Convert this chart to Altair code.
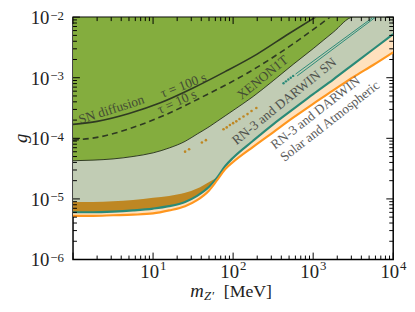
import altair as alt
import numpy as np
import pandas as pd

# ---------------- data (log10 values) ----------------
M_LOG = [0, 0.25, 0.5, 0.75, 1.0, 1.2, 1.4, 1.55, 1.7, 1.8, 1.9, 2.0, 2.25, 2.5, 2.75, 3.0, 3.25, 3.5, 3.75, 4.0]
XENON_LOG = [-4.37, -4.36, -4.34, -4.30, -4.24, -4.16, -4.05, -3.93, -3.81, -3.72, -3.63, -3.54, -3.31, -3.05, -2.78, -2.52, -2.25, -2.0, -2.0, -2.0]
SN_TEAL_LOG = [-5.22, -5.22, -5.21, -5.19, -5.16, -5.12, -5.05, -4.95, -4.80, -4.65, -4.46, -4.32, -4.04, -3.77, -3.52, -3.27, -3.03, -2.78, -2.53, -2.28]
SOLAR_LOG = [-5.28, -5.28, -5.27, -5.26, -5.24, -5.19, -5.12, -5.02, -4.86, -4.69, -4.51, -4.39, -4.14, -3.90, -3.66, -3.43, -3.21, -2.99, -2.79, -2.58]
OCHRE_TOP_LOG = [-5.05, -5.05, -5.04, -5.02, -4.98, -4.95, -4.90, -4.83, -4.72, -4.65]

TAU100_M_LOG = [0, 0.3, 0.7, 1.1, 1.5, 1.9, 2.3, 2.7, 3.03]
TAU100_G_LOG = [-3.77, -3.72, -3.59, -3.41, -3.17, -2.90, -2.61, -2.27, -2.0]
TAU10_M_LOG = [0, 0.32, 0.73, 1.14, 1.67, 2.17, 2.74, 3.21]
TAU10_G_LOG = [-4.03, -3.98, -3.83, -3.62, -3.28, -2.93, -2.45, -2.0]

DOTS_M_LOG = [1.40, 1.45, 1.61, 1.66, 1.88, 1.92, 1.96, 2.00, 2.04, 2.08, 2.13, 2.18, 2.23, 2.29]
DOTS_G_LOG = [-4.22, -4.18, -4.07, -4.03, -3.85, -3.82, -3.78, -3.75, -3.72, -3.68, -3.64, -3.60, -3.55, -3.50]

XE_A_M_LOG = [2.78, 3.75]
XE_A_G_LOG = [-2.94, -2.0]
XE_B_M_LOG = [2.80, 3.78]
XE_B_G_LOG = [-2.97, -2.0]
XE_DOT_M_LOG = [2.63, 2.66, 2.69, 2.72, 2.75]
XE_DOT_G_LOG = [-3.09, -3.06, -3.03, -3.00, -2.97]

LABELS = ["SN diffusion", "τ = 100 s", "τ = 10 s", "XENON1T", "RN-3 and DARWIN SN",
          "RN-3 and DARWIN", "Solar and Atmospheric"]
LABEL_M_LOG = [0.48, 1.38, 1.30, 2.37, 2.64, 3.03, 3.21]
LABEL_G_LOG = [-3.53, -3.13, -3.40, -3.00, -3.39, -3.58, -3.72]
LABEL_ANGLE = [342, 339, 336, 321, 321, 322, 322]

X_MAJOR = [1, 10, 100, 1000, 10000]
X_LABELED = [10, 100, 1000, 10000]
X_EXP = ["1", "2", "3", "4"]
Y_MAJOR = [1e-6, 1e-5, 1e-4, 1e-3, 1e-2]
Y_EXP = ["−6", "−5", "−4", "−3", "−2"]
X_MINOR = [k * 10 ** d for d in range(0, 4) for k in range(2, 10)]
Y_MINOR = [k * 10.0 ** d for d in range(-6, -2) for k in range(2, 10)]

# ---------------- styling ----------------
W, H = 325, 246
FONT = "Liberation Serif"
GREEN = "#84AD3E"
GREY = "#C1CCB4"
OCHRE = "#BE8723"
TEAL = "#2A8A78"
ORANGE = "#FF961E"
PEACH = "#FFE1BE"
DARK = "#2f3a22"

xs = alt.Scale(type="log", domain=[1, 1e4], nice=False)
ys = alt.Scale(type="log", domain=[1e-6, 1e-2], nice=False)
X = alt.X("m:Q", scale=xs, axis=None)
Y = alt.Y("g:Q", scale=ys, axis=None)


def p10(a):
    return list(10 ** np.array(a, dtype=float))


def area(lo, hi, color):
    n = len(lo)
    d = pd.DataFrame({"m": p10(M_LOG[:n]), "g": p10(lo), "g2": p10(hi)})
    return alt.Chart(d).mark_area(color=color, clip=True, interpolate="monotone").encode(
        x=X, y=Y, y2="g2:Q")


def line(ml, gl, color, width, dash=None, interp="monotone"):
    d = pd.DataFrame({"m": p10(ml), "g": p10(gl)})
    kw = dict(color=color, strokeWidth=width, clip=True, interpolate=interp)
    if dash:
        kw["strokeDash"] = dash
    return alt.Chart(d).mark_line(**kw).encode(x=X, y=Y)


layers = []
layers.append(area(SOLAR_LOG, SN_TEAL_LOG, PEACH))
layers.append(area(SN_TEAL_LOG, XENON_LOG, GREY))
layers.append(area(XENON_LOG, [-2.0] * len(M_LOG), GREEN))
layers.append(area(SN_TEAL_LOG[:10], OCHRE_TOP_LOG, OCHRE))

layers.append(line(M_LOG, XENON_LOG, DARK, 1.0))
layers.append(line(M_LOG, SN_TEAL_LOG, TEAL, 2.2))
layers.append(line(M_LOG, SOLAR_LOG, ORANGE, 2.2))
layers.append(line(TAU100_M_LOG, TAU100_G_LOG, DARK, 1.6))
layers.append(line(TAU10_M_LOG, TAU10_G_LOG, DARK, 1.6, dash=[6, 4]))
layers.append(line(XE_A_M_LOG, XE_A_G_LOG, TEAL, 1.0, interp="linear"))
layers.append(line(XE_B_M_LOG, XE_B_G_LOG, TEAL, 1.0, interp="linear"))

dots = pd.DataFrame({"m": p10(DOTS_M_LOG), "g": p10(DOTS_G_LOG)})
layers.append(alt.Chart(dots).mark_circle(color=OCHRE, size=7, opacity=1).encode(x=X, y=Y))
xdots = pd.DataFrame({"m": p10(XE_DOT_M_LOG), "g": p10(XE_DOT_G_LOG)})
layers.append(alt.Chart(xdots).mark_circle(color=TEAL, size=6, opacity=1).encode(x=X, y=Y))

# annotations
for lab, ml, gl, ang in zip(LABELS, LABEL_M_LOG, LABEL_G_LOG, LABEL_ANGLE):
    d = pd.DataFrame({"m": [10 ** ml], "g": [10 ** gl], "t": [lab]})
    layers.append(alt.Chart(d).mark_text(font=FONT, fontSize=13.5, angle=ang, color="#333333",
                                         opacity=0.8, align="center", baseline="middle").encode(
        x=X, y=Y, text="t:N"))


# inward ticks on all four sides
def xticks(vals, length):
    d = pd.DataFrame({"m": vals})
    b = alt.Chart(d).mark_rule(color="black", strokeWidth=1).encode(
        x=X, y=alt.value(H), y2=alt.value(H - length))
    t = alt.Chart(d).mark_rule(color="black", strokeWidth=1).encode(
        x=X, y=alt.value(0), y2=alt.value(length))
    return [b, t]


def yticks(vals, length):
    d = pd.DataFrame({"g": vals})
    l = alt.Chart(d).mark_rule(color="black", strokeWidth=1).encode(
        y=Y, x=alt.value(0), x2=alt.value(length))
    r = alt.Chart(d).mark_rule(color="black", strokeWidth=1).encode(
        y=Y, x=alt.value(W), x2=alt.value(W - length))
    return [l, r]


layers += xticks(X_MAJOR, 7) + xticks(X_MINOR, 4)
layers += yticks(Y_MAJOR, 7) + yticks(Y_MINOR, 4)

# tick labels (10 with superscript exponent)
xl = pd.DataFrame({"m": X_LABELED, "e": X_EXP, "b": ["10"] * len(X_LABELED)})
layers.append(alt.Chart(xl).mark_text(font=FONT, fontSize=19, align="right", baseline="alphabetic",
                                      dx=6, color="#222").encode(x=X, y=alt.value(H + 19), text="b:N"))
layers.append(alt.Chart(xl).mark_text(font=FONT, fontSize=13, align="left", baseline="alphabetic",
                                      dx=7, color="#222").encode(x=X, y=alt.value(H + 11), text="e:N"))
yl = pd.DataFrame({"g": Y_MAJOR, "e": Y_EXP, "b": ["10"] * len(Y_MAJOR)})
layers.append(alt.Chart(yl).mark_text(font=FONT, fontSize=19, align="right", baseline="alphabetic",
                                      dy=7, color="#222").encode(y=Y, x=alt.value(-24), text="b:N"))
layers.append(alt.Chart(yl).mark_text(font=FONT, fontSize=13, align="left", baseline="alphabetic",
                                      dy=2.5, color="#222").encode(y=Y, x=alt.value(-23), text="e:N"))

# axis titles
one = pd.DataFrame({"t": ["m"]})
layers.append(alt.Chart(one).mark_text(font=FONT, fontSize=19, fontStyle="italic", align="left",
                                       baseline="alphabetic", color="#222").encode(
    x=alt.value(119), y=alt.value(284), text="t:N"))
sub = pd.DataFrame({"t": ["Z′"]})
layers.append(alt.Chart(sub).mark_text(font=FONT, fontSize=13, fontStyle="italic", align="left",
                                       baseline="alphabetic", color="#222").encode(
    x=alt.value(133), y=alt.value(287), text="t:N"))
unit = pd.DataFrame({"t": ["[MeV]"]})
layers.append(alt.Chart(unit).mark_text(font=FONT, fontSize=18, align="left",
                                        baseline="alphabetic", color="#222").encode(
    x=alt.value(153), y=alt.value(284), text="t:N"))
gt = pd.DataFrame({"t": ["g"]})
layers.append(alt.Chart(gt).mark_text(font=FONT, fontSize=19, fontStyle="italic", align="center",
                                      baseline="middle", angle=270, color="#222").encode(
    x=alt.value(-53), y=alt.value(H / 2), text="t:N"))

chart = alt.layer(*layers).properties(
    width=W, height=H,
    autosize=alt.AutoSizeParams(type="none"),
    padding={"left": 66, "top": 7, "right": 14, "bottom": 50},
).configure_view(stroke="black", strokeWidth=1.5)

chart.save("out.html", embed_options={"renderer": "svg", "actions": False})
